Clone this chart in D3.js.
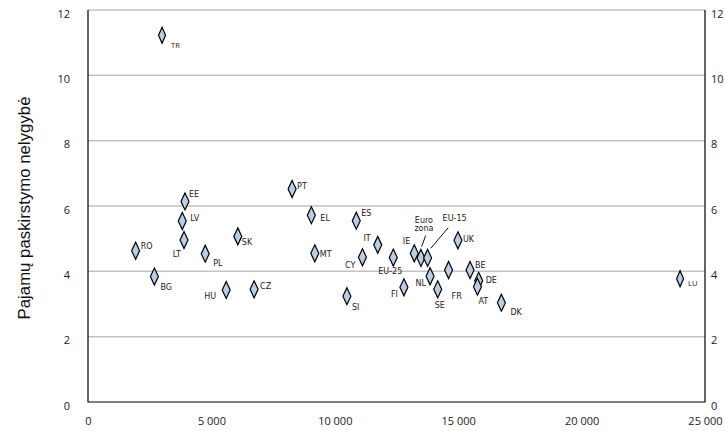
<!DOCTYPE html>
<html>
<head>
<meta charset="utf-8">
<script src="https://cdnjs.cloudflare.com/ajax/libs/d3/7.8.5/d3.min.js"></script>
<style>
	body { margin: 0; background: #fff; }
	.tick text { font-family: "Open Sans", sans-serif; font-size: 11px; fill: #222; }
	.lbl { font-family: "DejaVu Sans", sans-serif; font-size: 8px; fill: #222; }
	.lbl.small { font-family: "Open Sans", sans-serif; font-size: 7.5px; }
</style>
</head>
<body>
<div class="graphContainer"></div>
<script>
//Chart data: country codes, income (x) and income inequality (y)
const countries = ["TR", "EE", "LV", "LT", "RO", "PL", "SK", "BG", "HU", "CZ",
	"PT", "EL", "ES", "MT", "IT", "CY", "EU-25", "SI", "FI", "IE", "Euro zona", "EU-15",
	"NL", "SE", "FR", "UK", "BE", "DE", "AT", "DK", "LU"];
const income = [3000, 3930, 3820, 3890, 1930, 4750, 6070, 2690, 5600, 6730,
	8270, 9050, 10870, 9190, 11740, 11120, 12370, 10490, 12800, 13220, 13490, 13760,
	13860, 14170, 14610, 14990, 15480, 15830, 15780, 16750, 23990];
const inequality = [11.23, 6.14, 5.54, 4.96, 4.63, 4.54, 5.07, 3.84, 3.43, 3.45,
	6.52, 5.72, 5.55, 4.55, 4.81, 4.43, 4.42, 3.24, 3.51, 4.55, 4.41, 4.41,
	3.85, 3.45, 4.04, 4.95, 4.04, 3.71, 3.53, 3.04, 3.77];
const xTicks = [0, 5000, 10000, 15000, 20000, 25000];
const yTicks = [0, 2, 4, 6, 8, 10, 12];
const yTitle = "Pajamų paskirstymo nelygybė";

//Label placement next to each marker: [dx, dy, anchor]
const labelPos = {
	"TR": [9, 10, "start"], "EE": [4, -7, "start"], "LV": [8, -3, "start"],
	"LT": [-3, 14, "end"], "RO": [5, -5, "start"], "PL": [8, 10, "start"],
	"SK": [4, 6, "start"], "BG": [6, 11, "start"], "HU": [-10, 6, "end"],
	"CZ": [6, -3, "start"], "PT": [5, -3, "start"], "EL": [9, 3, "start"],
	"ES": [5, -8, "start"], "MT": [5, 1, "start"], "IT": [-7, -7, "end"],
	"CY": [-7, 8, "end"], "EU-25": [-3, 14, "middle"], "SI": [5, 11, "start"],
	"FI": [-6, 7, "end"], "IE": [-4, -12, "end"], "Euro zona": [3, -38, "middle"],
	"EU-15": [27, -40, "middle"], "NL": [-4, 7, "end"], "SE": [2, 16, "middle"],
	"FR": [3, 26, "start"], "UK": [5, -1, "start"], "BE": [5, -5, "start"],
	"DE": [7, -1, "start"], "AT": [1, 15, "start"], "DK": [9, 10, "start"],
	"LU": [8, 5, "start"]
};
const leaders = {
	"Euro zona": [0.7, -11.3, 4.7, -22.3],
	"EU-15": [3.3, -9.7, 20.6, -30.3]
};
const smallOnes = ["TR", "LU"];

//Set width, height and plot edges
const w = 725;
const h = 431;
const pL = 88, pR = 705, pT = 10, pB = 402;

const svg = d3.select(".graphContainer").append("svg")
	.attr("width", w)
	.attr("height", h)
	.style("display", "block");

const xScale = d3.scaleLinear().domain([0, 25000]).range([pL, pR]);
const yScale = d3.scaleLinear().domain([0, 12]).range([pB, pT]);

const locale = d3.formatLocale({ decimal: ",", thousands: " ", grouping: [3], currency: ["", ""] });
const fmt = locale.format(",d");

//Gridlines and left labels
const yAxisL = svg.append("g")
	.attr("transform", "translate(" + pL + ",0)")
	.call(d3.axisLeft(yScale).tickValues(yTicks).tickSize(0).tickPadding(18));
yAxisL.select(".domain").remove();
yAxisL.selectAll(".tick text").attr("dy", "0.75em").attr("y", -1);

svg.append("g")
	.selectAll("line")
	.data(yTicks.filter(d => d > 0))
	.join("line")
	.attr("x1", pL).attr("x2", pR)
	.attr("y1", d => yScale(d)).attr("y2", d => yScale(d))
	.attr("stroke", "#c3c3c3")
	.attr("stroke-width", 1.5);

const yAxisR = svg.append("g")
	.attr("transform", "translate(" + pR + ",0)")
	.call(d3.axisRight(yScale).tickValues(yTicks).tickSize(0).tickPadding(6));
yAxisR.select(".domain").remove();
yAxisR.selectAll(".tick text").attr("dy", "0.75em").attr("y", -1);

const xAxis = svg.append("g")
	.attr("transform", "translate(0," + pB + ")")
	.call(d3.axisBottom(xScale).tickValues(xTicks).tickSize(0).tickPadding(15).tickFormat(fmt));
xAxis.select(".domain").remove();

//Frame: left, right and bottom in black
svg.append("path")
	.attr("d", "M" + pL + "," + pT + "V" + pB + "H" + pR + "V" + pT)
	.attr("fill", "none")
	.attr("stroke", "#000")
	.attr("stroke-width", 1.2);

//Y title
svg.append("text")
	.attr("transform", "translate(30," + ((pT + pB) / 2 + 2) + ") rotate(-90)")
	.attr("text-anchor", "middle")
	.style("font-family", "'Liberation Sans', Arial, sans-serif")
	.style("font-size", "16.8px")
	.style("fill", "#111")
	.text(yTitle);

//Points
const pts = countries.map((c, i) => ({ name: c, x: income[i], y: inequality[i] }));

const diamond = (wd, ht) => "M0," + (-ht / 2) + "L" + (wd / 2) + ",0L0," + (ht / 2) + "L" + (-wd / 2) + ",0Z";

const g = svg.append("g");

//Leader lines
g.selectAll(".leader")
	.data(pts.filter(d => leaders[d.name]))
	.join("line")
	.attr("x1", d => xScale(d.x) + leaders[d.name][0])
	.attr("y1", d => yScale(d.y) + leaders[d.name][1])
	.attr("x2", d => xScale(d.x) + leaders[d.name][2])
	.attr("y2", d => yScale(d.y) + leaders[d.name][3])
	.attr("stroke", "#111")
	.attr("stroke-width", 1);

g.selectAll(".pt")
	.data(pts)
	.join("path")
	.attr("transform", d => "translate(" + xScale(d.x) + "," + yScale(d.y) + ")")
	.attr("d", d => smallOnes.includes(d.name) ? diamond(7, 16) : diamond(8, 17))
	.attr("fill", "#b9cde5")
	.attr("stroke", "#000")
	.attr("stroke-width", 1.2);

const labels = g.selectAll(".lbl")
	.data(pts)
	.join("text")
	.attr("class", d => smallOnes.includes(d.name) ? "lbl small" : "lbl")
	.attr("x", d => xScale(d.x) + labelPos[d.name][0])
	.attr("y", d => yScale(d.y) + labelPos[d.name][1])
	.attr("text-anchor", d => labelPos[d.name][2]);

labels.each(function(d) {
	const el = d3.select(this);
	const parts = d.name === "Euro zona" ? d.name.split(" ") : [d.name];
	parts.forEach((t, i) => {
		el.append("tspan")
			.attr("x", xScale(d.x) + labelPos[d.name][0])
			.attr("dy", i === 0 ? "0.35em" : "1.05em")
			.text(t);
	});
});
</script>
</body>
</html>
